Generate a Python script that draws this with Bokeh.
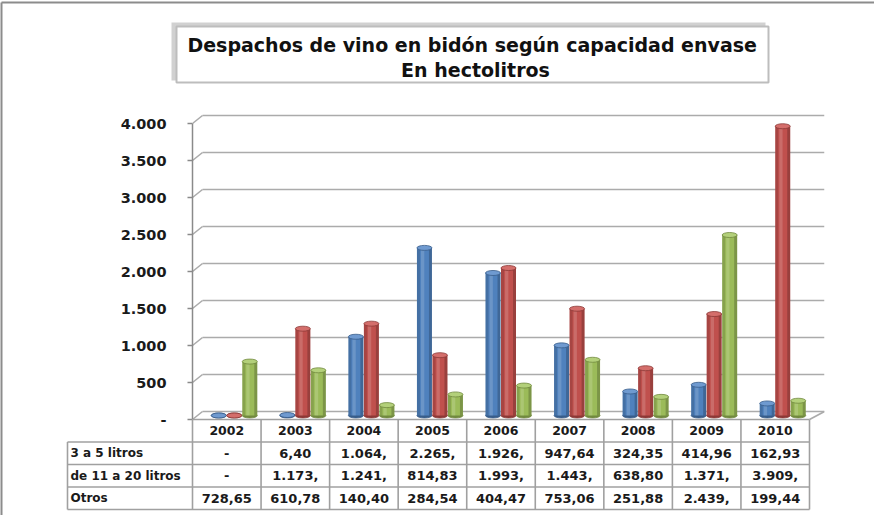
from bokeh.plotting import figure
from bokeh.models import Range1d, FixedTicker, CustomJSTickFormatter
from bokeh.core.properties import value
from bokeh.embed import file_html
from bokeh.resources import INLINE

# ---------------- data ----------------
YEARS = ["2002", "2003", "2004", "2005", "2006", "2007", "2008", "2009", "2010"]
SERIES = ["3 a 5 litros", "de 11 a 20 litros", "Otros"]
LITROS_3_5 = [0, 6.40, 1064, 2265, 1926, 947.64, 324.35, 414.96, 162.93]
LITROS_11_20 = [0, 1173, 1241, 814.83, 1993, 1443, 638.80, 1371, 3909]
OTROS = [728.65, 610.78, 140.40, 284.54, 404.47, 753.06, 251.88, 2439, 199.44]
TXT_3_5 = ["-", "6,40", "1.064,", "2.265,", "1.926,", "947,64", "324,35", "414,96", "162,93"]
TXT_11_20 = ["-", "1.173,", "1.241,", "814,83", "1.993,", "1.443,", "638,80", "1.371,", "3.909,"]
TXT_OTROS = ["728,65", "610,78", "140,40", "284,54", "404,47", "753,06", "251,88", "2.439,", "199,44"]
Y_TICKS = [0, 500, 1000, 1500, 2000, 2500, 3000, 3500, 4000]
TITLE_LINES = ["Despachos de vino en  bidón según capacidad envase", "En hectolitros"]
COLORS = ["#4F81BD", "#C0504D", "#9BBB59"]
DARK = ["#385D8A", "#8C3836", "#71893F"]
LIGHT = ["#6F9AD0", "#D46E6B", "#B3D07A"]

# ---------------- layout (page pixels) ----------------
PAGE_OFF = 8
W, H = 874, 515
FRAME_L, FRAME_R = 200, 832
FRAME_T, FRAME_B = PAGE_OFF, PAGE_OFF + H
ZERO_Y, TOP_Y = 427, 131
TABLE_R = 817
LABEL_L = 75
ROW_H = 22.5
COLW = (TABLE_R - FRAME_L) / len(YEARS)
S = (ZERO_Y - TOP_Y) / Y_TICKS[-1]
FONT = value("DejaVu Sans")

x_range = Range1d(-0.5, -0.5 + (FRAME_R - FRAME_L) / COLW)
y_range = Range1d(-(FRAME_B - ZERO_Y) / S, (ZERO_Y - FRAME_T) / S)


def shifted(px):
    d = px / S
    return Range1d(y_range.start - d, y_range.end - d)


hdr_c = ZERO_Y + ROW_H / 2
p = figure(width=W, height=H, x_range=x_range, y_range=y_range,
           output_backend="svg", toolbar_location=None, x_axis_location=None,
           min_border_left=FRAME_L - PAGE_OFF, min_border_right=PAGE_OFF + W - FRAME_R,
           min_border_top=0, min_border_bottom=0)
p.extra_y_ranges = {
    "bars": shifted(4),
    "back": shifted(8),
    "table": Range1d((FRAME_B - hdr_c) / ROW_H, (FRAME_T - hdr_c) / ROW_H),
    "py": Range1d(FRAME_B, FRAME_T),
}
p.extra_x_ranges = {"px": Range1d(FRAME_L, FRAME_R)}
p.outline_line_color = None
p.xgrid.visible = False
p.ygrid.visible = False
p.background_fill_color = "white"
p.border_fill_color = "white"

ax = p.yaxis[0]
ax.ticker = FixedTicker(ticks=Y_TICKS)
ax.bounds = (Y_TICKS[0], Y_TICKS[-1])
ax.formatter = CustomJSTickFormatter(code="""
if (tick == 0) { return '-'; }
const s = Math.round(tick).toString();
return s.replace(/\\B(?=(\\d{3})+(?!\\d))/g, '.');
""")
ax.axis_line_color = "#8A8A8A"
ax.axis_line_width = 1.5
ax.major_tick_line_color = "#8A8A8A"
ax.major_tick_line_width = 1.5
ax.major_tick_out = 5
ax.major_tick_in = 0
ax.minor_tick_line_color = None
ax.major_label_text_font = "DejaVu Sans"
ax.major_label_text_font_style = "bold"
ax.major_label_text_font_size = "14.5px"
ax.major_label_text_color = "#1a1a1a"
ax.major_label_standoff = 21

# ---------------- 3D walls / gridlines ----------------
dxl = 10 / COLW
dxr = 15 / COLW
dy = 8 / S
grid_col = "#ABABAB"
p.segment(x0=[-0.5] * len(Y_TICKS), y0=Y_TICKS,
          x1=[-0.5 + dxl] * len(Y_TICKS), y1=[t + dy for t in Y_TICKS],
          line_color=grid_col, line_width=1.6)
p.segment(x0=[-0.5 + dxl] * len(Y_TICKS), y0=Y_TICKS,
          x1=[x_range.end] * len(Y_TICKS), y1=Y_TICKS,
          y_range_name="back", line_color=grid_col, line_width=1.6)
p.segment(x0=[len(YEARS) - 0.5], y0=[0], x1=[len(YEARS) - 0.5 + dxr], y1=[dy],
          line_color=grid_col, line_width=1.6)

# ---------------- cylinders ----------------
GAP = 15.5 / COLW
SHIFT = 7.5 / COLW
BW = 15 / COLW
for j, vals in enumerate([LITROS_3_5, LITROS_11_20, OTROS]):
    xs = [i + (j - 1) * GAP + SHIFT for i in range(len(YEARS))]
    p.ellipse(x=xs, y=[0] * len(xs), width=BW, height=5, height_units="screen",
              y_range_name="bars", fill_color=DARK[j], line_color=DARK[j], line_width=0.8)
    p.vbar(x=xs, top=vals, bottom=0, width=BW, y_range_name="bars",
           fill_color=COLORS[j], line_color=None)
    p.vbar(x=[x - BW * 0.4 for x in xs], top=vals, bottom=0, width=BW * 0.2,
           y_range_name="bars", fill_color="black", fill_alpha=0.13, line_color=None)
    p.vbar(x=[x + BW * 0.4 for x in xs], top=vals, bottom=0, width=BW * 0.2,
           y_range_name="bars", fill_color="black", fill_alpha=0.2, line_color=None)
    p.vbar(x=[x - BW * 0.12 for x in xs], top=vals, bottom=0, width=BW * 0.22,
           y_range_name="bars", fill_color="white", fill_alpha=0.16, line_color=None)
    p.ellipse(x=xs, y=vals, width=BW, height=5, height_units="screen",
              y_range_name="bars", fill_color=LIGHT[j], line_color=DARK[j], line_width=0.8)

# ---------------- data table ----------------
tcol = "#A0A0A0"
n = len(YEARS)
lab_x = -0.5 - (FRAME_L - LABEL_L) / COLW
# horizontal lines
p.segment(x0=[-0.5, lab_x, lab_x, lab_x, lab_x], y0=[-0.5, 0.5, 1.5, 2.5, 3.5],
          x1=[n - 0.5] * 5, y1=[-0.5, 0.5, 1.5, 2.5, 3.5],
          y_range_name="table", line_color=tcol, line_width=1.6, level="overlay")
# vertical lines
p.segment(x0=[k - 0.5 for k in range(n + 1)], y0=[-0.5] * (n + 1),
          x1=[k - 0.5 for k in range(n + 1)], y1=[3.5] * (n + 1),
          y_range_name="table", line_color=tcol, line_width=1.6, level="overlay")
p.segment(x0=[lab_x], y0=[0.5], x1=[lab_x], y1=[3.5],
          y_range_name="table", line_color=tcol, line_width=1.6, level="overlay")

p.text(x=list(range(n)), y=[0] * n, text=YEARS, y_range_name="table",
       text_align="center", text_baseline="middle", text_font=FONT,
       text_font_style="bold", text_font_size="12.5px", text_color="#1a1a1a", level="overlay")
for r, txt in enumerate([TXT_3_5, TXT_11_20, TXT_OTROS], start=1):
    p.text(x=list(range(n)), y=[r] * n, text=txt, y_range_name="table",
           text_align="center", text_baseline="middle", text_font=FONT,
           text_font_style="bold", text_font_size="13px", text_color="#1a1a1a", level="overlay")
p.text(x=[lab_x + 3 / COLW] * 3, y=[1, 2, 3], text=SERIES, y_range_name="table",
       text_align="left", text_baseline="middle", text_font=FONT,
       text_font_style="bold", text_font_size="12px", text_color="#1a1a1a", level="overlay")

# ---------------- title box ----------------
p.quad(left=[179], right=[773], top=[30], bottom=[88], x_range_name="px", y_range_name="py",
       fill_color="#9A9A9A", fill_alpha=0.45, line_color=None, level="overlay")
p.quad(left=[184], right=[776], top=[34], bottom=[90], x_range_name="px", y_range_name="py",
       fill_color="white", line_color="#BDBDBD", line_width=2, level="overlay")
p.text(x=[483, 483], y=[52, 77], text=TITLE_LINES, x_range_name="px", y_range_name="py",
       text_align="center", text_baseline="middle", text_font=FONT,
       text_font_style="bold", text_font_size="19px", text_color="#111111", level="overlay")

# ---------------- outer chart border ----------------
p.segment(x0=[9, 9], y0=[10, 10], x1=[9, PAGE_OFF + W], y1=[FRAME_B, 10],
          x_range_name="px", y_range_name="py", line_color="#8C8C8C", line_width=2,
          level="overlay")

open("out.html", "w").write(file_html(p, INLINE))
